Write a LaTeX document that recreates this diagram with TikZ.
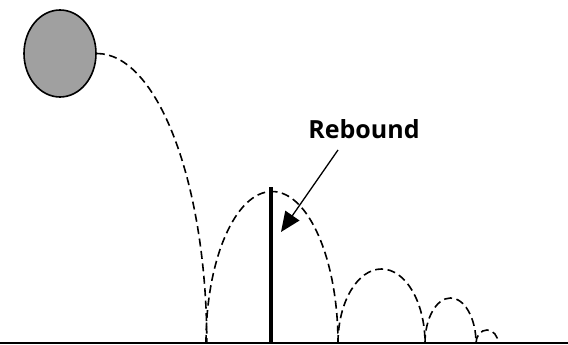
\documentclass[tikz,border=0pt]{standalone}
\usepackage{fontspec}
\setsansfont{Open Sans}
\usetikzlibrary{arrows.meta,positioning,shapes.geometric}
\definecolor{ink}{RGB}{0,0,0}
\definecolor{ballfill}{RGB}{160,160,160}
\tikzset{
  every picture/.style={color=ink, line width=1.5pt},
  ball/.style={draw=ink, ellipse, fill=ballfill, line width=1.6pt, minimum width=72pt, minimum height=87pt, inner sep=0pt},
  bounce/.style={dash pattern=on 8pt off 4.5pt, line width=1.6pt},
  ground/.style={line width=1.8pt},
  mark line/.style={line width=3.2pt},
  lbl/.style={font=\sffamily\bfseries\fontsize{25}{30}\selectfont, inner sep=0pt},
  pointer/.style={-{Triangle[length=20pt,width=17pt]}, line width=1.3pt},
}
\begin{document}
\begin{tikzpicture}[x=1pt, y=1pt]
  \useasboundingbox (0,0) rectangle (568,345);
  \node[ball] (ball) at (60,291.5) {};
  \node[lbl, anchor=base] (reb) at (364,206) {Rebound};
  \coordinate (floor l) at (0,2);
  \coordinate (floor r) at (568,2);
  \coordinate (peak) at (271,158);
  \coordinate (peak foot) at (271,2);
  \coordinate (tail) at (338,195);
  \coordinate (tip) at (281,113);
  \draw[ground] (floor l) -- (floor r);
  % fall and bounces
  \draw[bounce] (ball.east) arc[start angle=90, end angle=0, x radius=110, y radius=290];
  \draw[bounce] (206,2) arc[start angle=180, end angle=0, x radius=66, y radius=151.5];
  \draw[bounce] (338,2) arc[start angle=180, end angle=0, x radius=43.5, y radius=74];
  \draw[bounce] (425,2) arc[start angle=180, end angle=0, x radius=25.5, y radius=45];
  \draw[bounce] (476,2) arc[start angle=180, end angle=0, x radius=11, y radius=13];
  \draw[mark line] (peak foot) -- (peak);
  \draw[pointer] (tail) -- (tip);
\end{tikzpicture}
\end{document}
